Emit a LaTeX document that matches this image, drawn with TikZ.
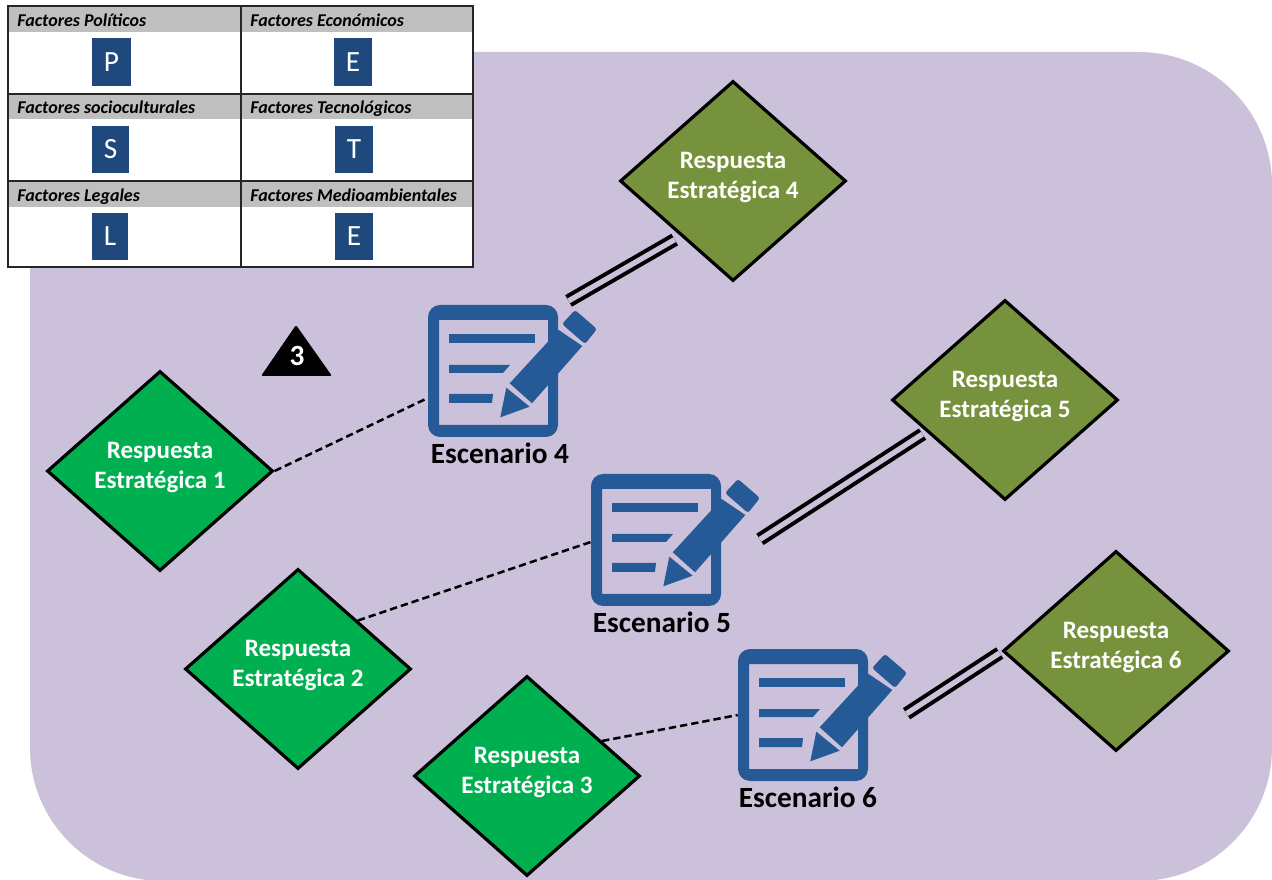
\documentclass[tikz,border=0pt]{standalone}
\usepackage{fontspec}
\setmainfont{Carlito}
\usetikzlibrary{shapes.geometric,calc}
\definecolor{bgpurple}{HTML}{CCC1DA}
\definecolor{dgreen}{HTML}{00B050}
\definecolor{dolive}{HTML}{76923C}
\definecolor{iconblue}{HTML}{255A96}
\definecolor{cellblue}{HTML}{1F497D}
\definecolor{headgray}{HTML}{BFBFBF}
\tikzset{
  x=0.75pt,y=-0.75pt,
  resp/.style={diamond,draw=black,line width=2.4pt,minimum width=169.5pt,minimum height=150pt,inner sep=0pt,aspect=1.13},
  resptxt/.style={text=white,font=\fontsize{18.8}{22.5}\selectfont\bfseries,align=center},
  scen/.style={font=\fontsize{22}{24}\selectfont\bfseries,text=black},
  iconbox/.style={minimum width=97.5pt,minimum height=99pt,inner sep=0pt},
  dash1/.style={line width=1.9pt,dash pattern=on 5.5pt off 3pt},
  dbl/.style={line width=3pt,double=bgpurple,double distance=4pt,draw=black},
  headtxt/.style={font=\fontsize{13.5}{15}\selectfont\bfseries\itshape,anchor=base west,inner sep=0pt},
  letter/.style={fill=cellblue,text=white,font=\fontsize{22}{24}\selectfont,inner sep=0pt},
  tline/.style={line width=1.2pt,draw=black!85},
  sheet/.pic={
    \fill[iconblue,even odd rule,rounded corners=9pt] (0,0) rectangle (130,132) [rounded corners=0pt] (11,15) rectangle (120,120);
    \fill[iconblue] (21,29) rectangle (107,38);
    \fill[iconblue] (21,60) -- (82,60) -- (75,68) -- (21,68) -- cycle;
    \fill[iconblue] (21,89) -- (65,89) -- (64,98) -- (21,98) -- cycle;
    \fill[iconblue] (81.7,78.3) -- (130.7,25) -- (154.3,41) -- (104,98.3) -- cycle;
    \fill[iconblue,rounded corners=2pt] (134,19) -- (147,5) -- (169,24) -- (157,39) -- cycle;
    \fill[iconblue] (78.3,82.7) -- (101.7,101.7) -- (72.3,112.3) -- cycle;
  }
}
\begin{document}
\begin{tikzpicture}
\useasboundingbox (0,0) rectangle (1272,880);
\begin{scope}
\clip (0,0) rectangle (1272,880);
\fill[bgpurple,rounded corners=100pt] (30,52) rectangle (1272,881);
\end{scope}
% table
\fill[white] (8,6) rectangle (473,267);
\fill[headgray] (8,6) rectangle (473,32);
\fill[headgray] (8,94) rectangle (473,119);
\fill[headgray] (8,181) rectangle (473,207);
\draw[tline] (8,6) rectangle (473,267);
\draw[tline] (241,6) -- (241,267);
\draw[tline] (8,94) -- (473,94);
\draw[tline] (8,181) -- (473,181);
\node[headtxt] (h1) at (17,26.5) {Factores Políticos};
\node[headtxt] (h2) at (250,26.5) {Factores Económicos};
\node[headtxt] (h3) at (17,113.5) {Factores socioculturales};
\node[headtxt] (h4) at (250,113.5) {Factores Tecnológicos};
\node[headtxt] (h5) at (17,201.5) {Factores Legales};
\node[headtxt] (h6) at (250,201.5) {Factores Medioambientales};
\node[letter,minimum width=29.25pt,minimum height=36pt] (lp) at (111.5,62) {P};
\node[letter,minimum width=28.5pt,minimum height=36pt] (le1) at (353,62) {E};
\node[letter,minimum width=27.75pt,minimum height=35.25pt] (ls) at (110.5,149.5) {S};
\node[letter,minimum width=28.5pt,minimum height=35.25pt] (lt) at (354,149.5) {T};
\node[letter,minimum width=27pt,minimum height=35.25pt] (ll) at (110,236.5) {L};
\node[letter,minimum width=28.5pt,minimum height=35.25pt] (le2) at (354,236.5) {E};
% triangle
\fill[black,rounded corners=1.5pt] (296,325) -- (332,376) -- (261,376) -- cycle;
\node[text=white,font=\fontsize{22}{24}\selectfont\bfseries,inner sep=0pt] (tri) at (297,356) {3};
% diamonds
\node[resp,fill=dgreen,label={[name=t1,resptxt,yshift=2.8pt]center:Respuesta\\Estratégica 1}] (d1) at (160,471) {};
\node[resp,fill=dgreen,label={[name=t2,resptxt,yshift=2.8pt]center:Respuesta\\Estratégica 2}] (d2) at (298,669) {};
\node[resp,fill=dgreen,label={[name=t3,resptxt,yshift=2.8pt]center:Respuesta\\Estratégica 3}] (d3) at (527,776) {};
\node[resp,fill=dolive,label={[name=t4,resptxt,yshift=2.8pt]center:Respuesta\\Estratégica 4}] (d4) at (733,181) {};
\node[resp,fill=dolive,label={[name=t5,resptxt,yshift=2.8pt]center:Respuesta\\Estratégica 5}] (d5) at (1005,400) {};
\node[resp,fill=dolive,label={[name=t6,resptxt,yshift=2.8pt]center:Respuesta\\Estratégica 6}] (d6) at (1116,651) {};
% icons
\node[iconbox] (s4) at (493,371) {};
\pic at (428,305) {sheet};
\node[iconbox] (s5) at (656,540) {};
\pic at (591,474) {sheet};
\node[iconbox] (s6) at (803,715) {};
\pic at (738,649) {sheet};
\node[scen] (e4) at (500,453) {Escenario 4};
\node[scen] (e5) at (662,622) {Escenario 5};
\node[scen] (e6) at (808,797) {Escenario 6};
% connectors
\draw[dash1] (d1.east) -- ($(s4.west)+(0,27)$);
\draw[dash1] (d2.39) -- ($(s5.west)+(0,2)$);
\draw[dash1] (d3.25) -- (s6.west);
\draw[dbl] ($(s4.north east)+(10.3,-3.8)$) -- ($(d4.south west)+(-1,7.8)$);
\draw[dbl] ($(s5.east)+(38.7,-0.6)$) -- ($(d5.south west)+(-25.2,-16.7)$);
\draw[dbl] ($(s6.east)+(38.3,-1.3)$) -- ($(d6.west)+(-1.7,2)$);
\end{tikzpicture}
\end{document}
